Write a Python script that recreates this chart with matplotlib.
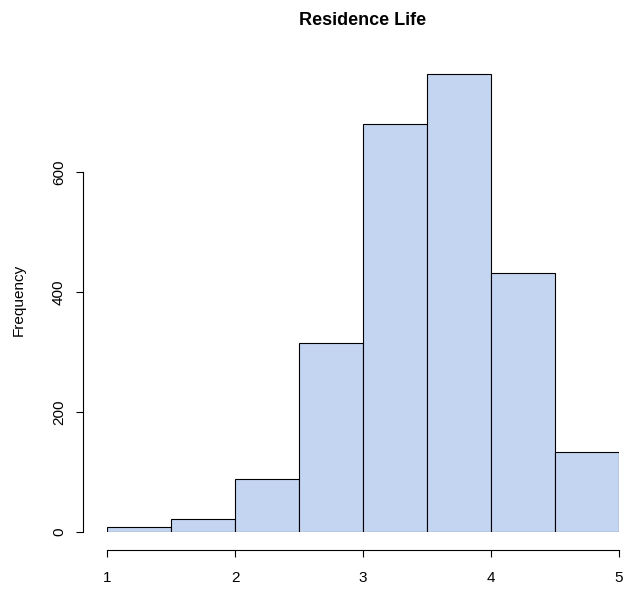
import numpy as np
import matplotlib.pyplot as plt

plt.rcParams['font.family'] = ['Liberation Sans', 'DejaVu Sans']

# histogram of ratings (bin edges and counts)
bin_edges = [1.0, 1.5, 2.0, 2.5, 3.0, 3.5, 4.0, 4.5, 5.0]
counts = [9, 21, 88, 315, 680, 763, 431, 133]
x_ticks = [1, 2, 3, 4, 5]
y_ticks = [0, 200, 400, 600]

W, H = 626, 595
fig = plt.figure(figsize=(W / 100, H / 100), dpi=100)

# plot region: x 1..5 -> px 107..619, y 0 at px 532, 0.6 px per count
ax = fig.add_axes([107 / W, (H - 532) / H, 512 / W, 480 / H])
ax.set_xlim(1, 5)
ax.set_ylim(0, 800)

edges = np.array(bin_edges)
ax.bar(edges[:-1], counts, width=np.diff(edges), align='edge',
       color='#c4d5f1', edgecolor='black', linewidth=0.8)

for s in ['top', 'right']:
    ax.spines[s].set_visible(False)
ax.spines['left'].set_position(('outward', 17.5))
ax.spines['left'].set_bounds(0, 600)
ax.spines['bottom'].set_position(('outward', 13))
ax.spines['bottom'].set_bounds(1, 5)
for s in ['left', 'bottom']:
    ax.spines[s].set_linewidth(0.8)

ax.set_xticks(x_ticks)
ax.set_xticklabels([str(v) for v in x_ticks])
ax.set_yticks(y_ticks)
ax.set_yticklabels([str(v) for v in y_ticks], rotation=90, va='center')
ax.tick_params(length=5, width=0.8, labelsize=11)
ax.tick_params(axis='x', pad=10)
ax.tick_params(axis='y', pad=7)

fig.text(19 / W, 1 - 300 / H, 'Frequency', rotation=90, ha='center', va='center', fontsize=11)
fig.text(363 / W, 1 - 25 / H, 'Residence Life', ha='center', va='baseline',
         fontsize=13, fontweight='bold')

fig.savefig('out.png', dpi=100)
